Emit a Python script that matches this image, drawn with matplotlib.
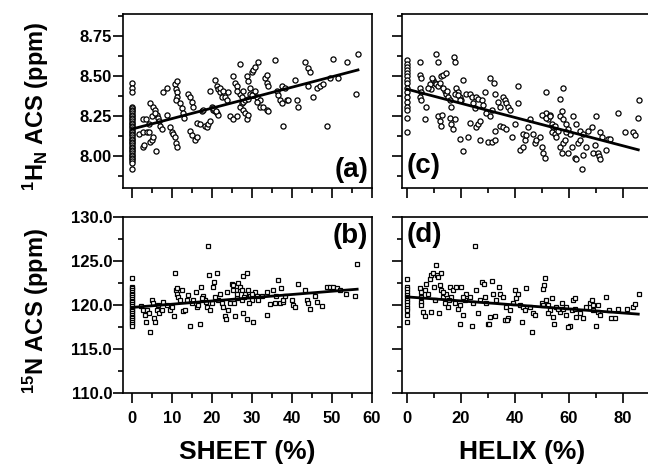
import numpy as np
import matplotlib
matplotlib.use("Agg")
import matplotlib.pyplot as plt
from matplotlib.ticker import MultipleLocator, FormatStrFormatter

# === fuentes ===
plt.rcParams['font.family'] = ['Liberation Sans', 'DejaVu Sans']
plt.rcParams['font.weight'] = 'bold'
plt.rcParams['mathtext.fontset'] = 'custom'
plt.rcParams['mathtext.rm'] = 'Liberation Sans:bold'
plt.rcParams['mathtext.it'] = 'Liberation Sans:bold'
plt.rcParams['mathtext.bf'] = 'Liberation Sans:bold'

# === datos (a): 1HN vs SHEET ===
a_col_y = [8.46, 8.43, 8.40, 8.31, 8.30, 8.29, 8.28, 8.27, 8.26, 8.25, 8.24, 8.23,
           8.22, 8.21, 8.20, 8.19, 8.18, 8.17, 8.16, 8.15, 8.14, 8.13, 8.12, 8.11,
           8.10, 8.09, 8.08, 8.07, 8.06, 8.05, 8.04, 8.03, 8.02, 8.01, 8.00, 7.99,
           7.98, 7.97, 7.96, 7.92]
a_x = [1.8, 2.8, 3.7, 2.7, 3.0, 2.7, 3.4, 4.5, 5.3, 5.8, 4.1, 4.5, 4.9, 5.3, 6.0,
       6.2, 6.6, 6.8, 7.0, 7.4, 7.8, 8.7, 8.7, 9.5, 9.9, 10.3, 10.8, 11.0, 11.2,
       10.8, 11.3, 11.0, 11.2, 11.3, 11.0, 12.0, 12.4, 12.8, 13.0, 14.1, 14.5,
       14.9, 15.3, 14.5, 14.9, 15.8, 16.2, 16.2, 17.0, 17.4, 17.8, 18.3, 18.7,
       19.1, 19.5, 19.5, 20.8, 21.2, 21.6, 22.0, 22.4, 19.9, 20.3, 20.8, 21.2,
       21.6, 22.0, 22.8, 23.3, 23.7, 24.1, 24.5, 25.3, 26.2, 27.0, 27.4, 27.8,
       28.3, 25.3, 25.8, 26.2, 27.0, 28.7, 29.1, 29.5, 29.9, 30.3, 30.8, 27.8,
       28.3, 28.7, 29.1, 27.0, 27.8, 29.5, 30.3, 31.2, 32.0, 31.6, 33.3, 33.7,
       34.1, 33.7, 32.0, 32.8, 33.7, 34.1, 35.8, 36.2, 36.6, 37.0, 37.4, 37.8,
       37.4, 38.3, 38.7, 39.1, 40.8, 41.2, 41.6, 43.3, 44.1, 44.5, 45.3, 44.1,
       46.2, 47.0, 47.8, 48.7, 49.5, 50.3, 51.6, 53.7, 56.0, 56.6, 5.0, 5.7, 4.2,
       26.3, 27.4, 29.1, 29.9, 30.8, 31.2, 20.2, 21.0]
a_y = [8.14, 8.15, 8.15, 8.06, 8.07, 8.23, 8.23, 8.33, 8.31, 8.29, 8.15, 8.09,
       8.10, 8.12, 8.03, 8.26, 8.24, 8.22, 8.19, 8.17, 8.40, 8.43, 8.26, 8.18,
       8.15, 8.14, 8.12, 8.08, 8.06, 8.45, 8.47, 8.42, 8.40, 8.37, 8.35, 8.33,
       8.30, 8.27, 8.24, 8.39, 8.37, 8.34, 8.31, 8.16, 8.13, 8.10, 8.12, 8.21,
       8.20, 8.28, 8.29, 8.19, 8.18, 8.20, 8.22, 8.41, 8.48, 8.44, 8.42, 8.40,
       8.37, 8.31, 8.29, 8.28, 8.27, 8.26, 8.43, 8.41, 8.37, 8.35, 8.40, 8.25,
       8.23, 8.25, 8.31, 8.33, 8.34, 8.35, 8.50, 8.46, 8.44, 8.58, 8.50, 8.47,
       8.43, 8.53, 8.54, 8.56, 8.29, 8.27, 8.23, 8.26, 8.39, 8.41, 8.39, 8.38,
       8.37, 8.35, 8.59, 8.49, 8.46, 8.44, 8.51, 8.31, 8.31, 8.29, 8.28, 8.60,
       8.41, 8.38, 8.35, 8.33, 8.19, 8.44, 8.43, 8.35, 8.35, 8.48, 8.35, 8.31,
       8.59, 8.55, 8.53, 8.37, 8.44, 8.43, 8.44, 8.45, 8.19, 8.49, 8.61, 8.49,
       8.59, 8.39, 8.64, 8.25, 8.27, 8.20,
       8.41, 8.37, 8.36, 8.38, 8.41, 8.34, 8.30, 8.28]
a_fit_x = [0.0, 56.5]
a_fit_y = [8.17, 8.54]

# === datos (b): 15N vs SHEET ===
b_col_y = [123.1, 122.1, 121.9, 121.7, 121.5, 121.3, 121.1, 120.9, 120.7, 120.5,
           120.3, 120.1, 119.9, 119.7, 119.5, 119.3, 119.1, 118.9, 118.7, 118.5,
           118.3, 118.1, 117.9, 117.6]
b_x = [2.2, 2.8, 3.3, 3.5, 3.7, 4.1, 4.5, 4.9, 5.3, 5.5, 5.8, 6.2, 6.6, 6.8, 7.4,
       7.8, 8.7, 9.5, 9.9, 10.5, 10.8, 11.0, 11.2, 11.3, 11.6, 12.0, 12.4, 12.8,
       13.3, 13.7, 14.1, 14.5, 14.9, 15.3, 16.0, 16.2, 16.6, 17.0, 17.3, 17.8,
       18.3, 18.7, 19.1, 19.3, 19.5, 19.9, 20.3, 20.6, 21.2, 21.6, 22.0, 22.4,
       22.8, 23.3, 23.5, 23.7, 24.1, 24.5, 24.9, 25.3, 25.6, 25.8, 26.0, 26.2,
       26.6, 27.0, 27.4, 27.7, 27.8, 28.3, 28.7, 28.8, 29.1, 29.5, 29.9, 30.3,
       30.8, 31.2, 31.6, 32.4, 33.7, 33.7, 34.5, 35.3, 35.8, 36.0, 36.6, 37.0,
       37.2, 37.7, 37.8, 38.3, 39.9, 40.3, 40.8, 41.4, 43.3, 43.7, 44.1, 44.5,
       45.8, 46.2, 47.4, 48.7, 49.5, 50.3, 51.2, 52.0, 53.5, 55.8, 56.3,
       25.2, 26.3, 27.4, 28.0, 29.3, 29.9, 17.4, 18.5, 20.8]
b_y = [119.9, 119.4, 118.9, 118.1, 119.4, 119.1, 117.0, 120.6, 120.2, 118.5,
       118.1, 119.4, 120.0, 119.1, 119.4, 120.4, 120.0, 119.4, 119.8, 118.8,
       123.6, 121.7, 121.9, 121.3, 120.9, 120.6, 121.7, 119.3, 119.4, 120.6,
       121.2, 117.6, 120.2, 120.6, 121.5, 119.8, 120.0, 117.9, 122.1, 121.0,
       120.6, 119.8, 126.7, 123.4, 119.4, 120.2, 122.1, 122.6, 123.6, 120.6,
       121.3, 120.2, 119.8, 118.8, 118.4, 121.5, 119.4, 120.2, 122.4, 122.3,
       120.2, 118.8, 121.7, 120.8, 122.5, 122.1, 120.6, 123.3, 119.1, 121.3,
       123.6, 118.4, 121.7, 121.0, 120.6, 118.1, 121.5, 121.0, 120.6, 121.0,
       121.5, 118.9, 120.1, 121.7, 120.2, 121.0, 122.9, 120.2, 121.9, 120.4,
       120.6, 121.0, 120.6, 120.0, 119.8, 122.4, 121.7, 120.6, 120.2, 119.6,
       121.0, 120.4, 119.9, 122.1, 122.1, 122.1, 121.9, 121.7, 121.3, 121.0,
       124.7,
       121.7, 121.3, 121.7, 120.9, 120.2, 121.3, 120.8, 120.4, 120.9]
b_fit_x = [0.0, 56.3]
b_fit_y = [119.74, 121.81]

# === datos (c): 1HN vs HELIX ===
c_col_y = [8.60, 8.58, 8.56, 8.54, 8.52, 8.50, 8.48, 8.46, 8.43, 8.40, 8.37, 8.34,
           8.31, 8.29, 8.24, 8.15]
c_x = [5.0, 4.8, 5.4, 4.8, 5.2, 4.8, 5.4, 7.3, 6.7, 9.1, 9.8, 9.5, 10.4, 11.0,
       11.6, 12.2, 12.8, 13.5, 14.7, 11.0, 11.4, 17.5, 18.0, 11.6, 12.2, 12.8,
       13.2, 14.1, 14.7, 15.3, 15.9, 16.2, 15.9, 16.5, 17.2, 17.8, 18.4, 19.0,
       19.6, 20.2, 20.9, 19.6, 20.9, 22.7, 22.1, 23.3, 24.0, 24.6, 25.2, 23.3,
       25.8, 26.4, 27.0, 25.8, 26.4, 27.7, 28.3, 28.9, 27.0, 30.1, 31.4, 32.6,
       30.7, 32.2, 32.6, 29.5, 30.7, 31.4, 32.6, 33.8, 34.4, 35.7, 36.3, 36.9,
       37.5, 38.1, 34.4, 35.7, 36.9, 38.8, 40.0, 41.2, 41.2, 41.9, 43.1, 43.1,
       43.7, 44.3, 44.9, 45.6, 46.8, 47.4, 48.0, 49.3, 49.9, 50.5, 51.1, 51.5,
       51.1, 51.7, 52.3, 53.0, 53.6, 54.2, 53.6, 54.8, 55.4, 56.7, 57.9, 56.7,
       57.3, 57.9, 58.5, 56.7, 57.3, 57.9, 59.1, 59.8, 60.4, 59.8, 61.0, 62.2,
       62.8, 63.5, 64.1, 61.6, 62.8, 64.1, 65.3, 64.7, 65.3, 66.5, 67.2, 68.4,
       69.0, 69.6, 70.2, 70.9, 71.2, 71.5, 71.7, 72.1, 73.9, 74.6, 75.2, 78.3,
       80.7, 83.8, 84.4, 85.7, 86.0,
       8.5, 7.9, 13.5, 14.9, 17.8, 19.0, 19.6, 50.2, 51.7, 53.2, 54.8, 56.0, 59.1]
c_y = [8.59, 8.51, 8.49, 8.43, 8.40, 8.37, 8.35, 8.31, 8.23, 8.42, 8.48, 8.49,
       8.46, 8.45, 8.44, 8.46, 8.50, 8.51, 8.52, 8.64, 8.59, 8.62, 8.59, 8.25,
       8.22, 8.19, 8.26, 8.41, 8.39, 8.37, 8.35, 8.31, 8.24, 8.20, 8.17, 8.23,
       8.43, 8.40, 8.37, 8.35, 8.48, 8.11, 8.03, 8.12, 8.39, 8.39, 8.37, 8.33,
       8.30, 8.21, 8.18, 8.20, 8.22, 8.37, 8.36, 8.35, 8.32, 8.40, 8.10, 8.09,
       8.09, 8.10, 8.49, 8.46, 8.39, 8.27, 8.25, 8.29, 8.16, 8.34, 8.31, 8.37,
       8.35, 8.33, 8.31, 8.29, 8.19, 8.18, 8.17, 8.12, 8.20, 8.44, 8.33, 8.04,
       8.06, 8.14, 8.10, 8.13, 8.18, 8.23, 8.14, 8.08, 8.10, 8.12, 8.06, 8.02,
       7.99, 8.40, 8.25, 8.27, 8.23, 8.26, 8.20, 8.18, 8.15, 8.14, 8.12, 8.36,
       8.43, 8.06, 8.02, 8.08, 8.10, 8.25, 8.28, 8.23, 8.20, 8.17, 8.14, 8.02,
       8.06, 7.99, 7.98, 8.08, 8.10, 8.25, 8.20, 8.16, 8.14, 7.92, 8.01, 8.06,
       8.16, 8.18, 8.02, 8.07, 8.25, 8.02, 8.00, 7.98, 8.15, 8.12, 8.04, 8.11,
       8.11, 8.27, 8.15, 8.15, 8.13, 8.24, 8.35,
       8.45, 8.43, 8.43, 8.41, 8.39, 8.38, 8.35, 8.26, 8.24, 8.25, 8.19, 8.16, 8.15]
c_fit_x = [0.0, 85.7]
c_fit_y = [8.42, 8.04]

# === datos (d): 15N vs HELIX ===
d_col_y = [123.0, 122.1, 121.8, 121.5, 121.2, 120.9, 120.6, 120.3, 120.0, 119.7,
           119.4, 118.9, 118.1]
d_x = [4.8, 5.1, 5.4, 5.2, 5.1, 6.0, 6.7, 7.3, 7.9, 8.5, 9.1, 9.1, 9.8, 10.0,
       10.4, 11.0, 11.2, 11.6, 12.0, 12.2, 12.5, 12.8, 13.5, 14.1, 14.7, 15.3,
       15.9, 16.5, 17.2, 17.8, 18.4, 19.0, 19.6, 20.2, 20.9, 21.5, 22.1, 23.3,
       24.0, 24.6, 25.2, 25.8, 26.4, 27.0, 28.0, 28.5, 28.9, 29.5, 30.1, 30.7,
       31.4, 32.0, 32.6, 33.2, 34.2, 34.7, 35.7, 36.3, 36.9, 37.5, 38.1, 39.4,
       40.0, 40.6, 41.2, 41.9, 42.5, 43.1, 43.7, 44.3, 45.6, 46.2, 46.8, 47.4,
       49.9, 50.5, 50.9, 51.2, 51.7, 52.3, 53.0, 53.6, 54.2, 54.6, 55.4, 56.7,
       57.3, 57.9, 59.1, 60.4, 61.0, 61.6, 62.2, 62.8, 64.1, 65.3, 66.5, 67.8,
       68.4, 69.0, 70.2, 70.9, 71.5, 73.9, 74.9, 77.0, 78.3, 81.4, 83.8, 84.4,
       86.0, 30.5, 37.1, 59.6, 75.7,
       6.7, 13.5, 15.7, 19.6, 20.9, 50.5, 52.3, 56.0, 59.1, 62.2, 69.0, 70.9]
d_y = [121.9, 121.5, 120.9, 120.4, 120.0, 119.2, 118.8, 122.4, 121.3, 123.0,
       123.4, 119.2, 123.6, 122.1, 120.6, 124.6, 123.4, 123.2, 119.1, 122.3,
       123.7, 121.7, 120.9, 120.2, 121.3, 119.8, 122.1, 120.9, 121.7, 120.2,
       122.1, 119.6, 117.9, 122.1, 118.9, 120.6, 121.3, 120.9, 117.6, 120.2,
       126.7, 121.7, 119.1, 120.6, 122.6, 122.4, 120.9, 120.2, 117.9, 118.7,
       122.7, 121.3, 118.8, 120.6, 122.1, 121.3, 120.9, 118.3, 119.8, 118.5,
       119.4, 120.2, 121.7, 120.8, 121.3, 120.0, 118.1, 119.8, 119.4, 122.0,
       119.8, 117.0, 119.1, 118.9, 120.2, 121.8, 122.3, 123.1, 120.6, 120.0,
       119.4, 120.8, 118.7, 117.9, 119.8, 119.2, 120.2, 119.6, 118.9, 117.6,
       119.4, 120.6, 120.8, 118.7, 119.1, 118.5, 119.8, 120.2, 120.6, 120.0,
       117.6, 119.2, 118.9, 120.9, 119.5, 118.5, 119.6, 119.6, 119.8, 120.1,
       121.3, 117.9, 118.3, 117.5, 118.5,
       121.7, 121.5, 120.6, 120.0, 120.9, 120.0, 119.1, 119.6, 119.8, 119.6,
       119.4, 120.0]
d_fit_x = [0.0, 85.7]
d_fit_y = [120.94, 118.98]

# === figura ===
fig = plt.figure(figsize=(6.48, 4.68), dpi=100)
ax_a = fig.add_axes([0.190, 0.598, 0.384, 0.372])
ax_b = fig.add_axes([0.190, 0.160, 0.384, 0.376])
ax_c = fig.add_axes([0.620, 0.598, 0.380, 0.372])
ax_d = fig.add_axes([0.620, 0.160, 0.380, 0.376])

kw_c = dict(ls="none", marker="o", ms=3.7, mfc="white", mec="black", mew=0.9)
kw_s = dict(ls="none", marker="s", ms=3.3, mfc="white", mec="black", mew=0.9)

ax_a.plot(np.zeros(len(a_col_y)), a_col_y, **kw_c)
ax_a.plot(a_x, a_y, **kw_c)
ax_a.plot(a_fit_x, a_fit_y, "k-", lw=2, zorder=3)

ax_b.plot(np.zeros(len(b_col_y)), b_col_y, **kw_s)
ax_b.plot(b_x, b_y, **kw_s)
ax_b.plot(b_fit_x, b_fit_y, "k-", lw=2, zorder=3)

ax_c.plot(np.zeros(len(c_col_y)), c_col_y, **kw_c)
ax_c.plot(c_x, c_y, **kw_c)
ax_c.plot(c_fit_x, c_fit_y, "k-", lw=2, zorder=3)

ax_d.plot(np.zeros(len(d_col_y)), d_col_y, **kw_s)
ax_d.plot(d_x, d_y, **kw_s)
ax_d.plot(d_fit_x, d_fit_y, "k-", lw=2, zorder=3)

for ax in (ax_a, ax_b):
    ax.set_xlim(-2.25, 60)
    ax.xaxis.set_major_locator(MultipleLocator(10))
    ax.xaxis.set_minor_locator(MultipleLocator(5))
for ax in (ax_c, ax_d):
    ax.set_xlim(-1.85, 89.3)
    ax.xaxis.set_major_locator(MultipleLocator(20))
    ax.xaxis.set_minor_locator(MultipleLocator(10))
    ax.spines["right"].set_visible(False)
for ax in (ax_a, ax_c):
    ax.set_ylim(7.8, 8.89)
    ax.yaxis.set_major_locator(MultipleLocator(0.25))
    ax.yaxis.set_minor_locator(MultipleLocator(0.125))
    ax.yaxis.set_major_formatter(FormatStrFormatter("%.2f"))
for ax in (ax_b, ax_d):
    ax.set_ylim(110, 130)
    ax.yaxis.set_major_locator(MultipleLocator(5))
    ax.yaxis.set_minor_locator(MultipleLocator(2.5))
    ax.yaxis.set_major_formatter(FormatStrFormatter("%.1f"))

for ax in (ax_a, ax_b, ax_c, ax_d):
    for s in ax.spines.values():
        s.set_linewidth(1.2)
    ax.tick_params(which="major", direction="out", length=7, width=1.2,
                   labelsize=12, pad=1)
    ax.tick_params(which="minor", direction="out", length=3.5, width=1.2)
    ax.tick_params(axis="x", which="major", pad=6)

ax_a.tick_params(axis="x", labelbottom=False)
ax_c.tick_params(axis="x", labelbottom=False)
ax_c.tick_params(axis="y", labelleft=False)
ax_d.tick_params(axis="y", labelleft=False)

# letras de panel
ax_a.text(0.985, 0.03, "(a)", transform=ax_a.transAxes, ha="right", va="bottom", fontsize=20)
ax_b.text(0.985, 0.965, "(b)", transform=ax_b.transAxes, ha="right", va="top", fontsize=20)
ax_c.text(0.02, 0.05, "(c)", transform=ax_c.transAxes, ha="left", va="bottom", fontsize=20)
ax_d.text(0.02, 0.97, "(d)", transform=ax_d.transAxes, ha="left", va="top", fontsize=20)

# rótulos de ejes
fig.text(36 / 648, 1 - 106 / 468, r"$^{1}$H$_{N}$ ACS (ppm)", rotation=90,
         ha="center", va="center", fontsize=17)
fig.text(36 / 648, 1 - 311 / 468, r"$^{15}$N ACS (ppm)", rotation=90,
         ha="center", va="center", fontsize=17)
fig.text(247 / 648, 1 - 452 / 468, "SHEET (%)", ha="center", va="center", fontsize=19)
fig.text(522 / 648, 1 - 452 / 468, "HELIX (%)", ha="center", va="center", fontsize=19)

fig.savefig("out.png", dpi=100)
